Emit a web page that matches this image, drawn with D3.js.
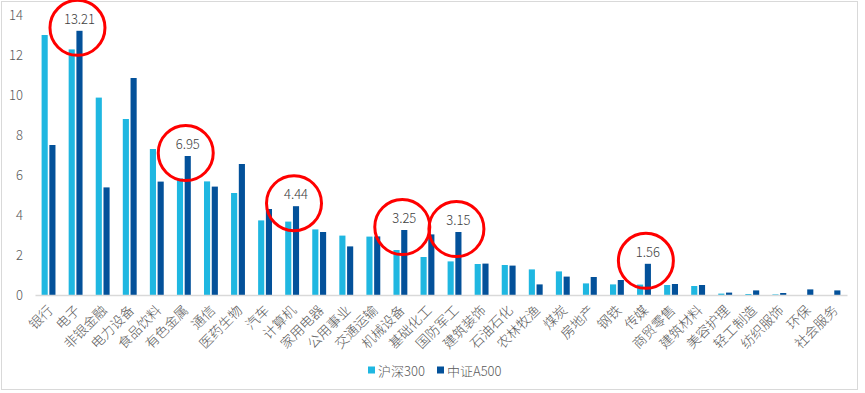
<!DOCTYPE html>
<html><head><meta charset="utf-8">
<script src="https://cdn.jsdelivr.net/npm/d3@7/dist/d3.min.js"></script>
<style>
html,body{margin:0;padding:0;background:#fff;}
svg{display:block;font-family:"Noto Sans CJK SC","Noto Sans",sans-serif;font-weight:300;}
</style></head>
<body>
<svg id="chart" width="865" height="393"></svg>
<script>
const categories = ["银行","电子","非银金融","电力设备","食品饮料","有色金属","通信","医药生物","汽车","计算机","家用电器","公用事业","交通运输","机械设备","基础化工","国防军工","建筑装饰","石油石化","农林牧渔","煤炭","房地产","钢铁","传媒","商贸零售","建筑材料","美容护理","轻工制造","纺织服饰","环保","社会服务"];
const seriesNames = ["沪深300","中证A500"];
const hs300 = [13.0,12.28,9.87,8.8,7.3,5.83,5.68,5.1,3.73,3.67,3.28,2.97,2.92,2.25,1.9,1.68,1.55,1.5,1.28,1.18,0.58,0.53,0.52,0.5,0.45,0.07,0.05,0.03,0,0];
const a500 = [7.5,13.21,5.38,10.85,5.67,6.95,5.42,6.55,4.3,4.44,3.15,2.43,2.93,3.25,3.03,3.15,1.57,1.47,0.53,0.92,0.9,0.75,1.56,0.55,0.5,0.12,0.23,0.1,0.28,0.23];
const yTicks = [0,2,4,6,8,10,12,14];
const annotated = ["电子","有色金属","计算机","机械设备","国防军工","传媒"];

const colors = ["#1fb7e1","#03519a"];
const svg = d3.select("#chart");

// outer border
svg.append("rect").attr("x",1.5).attr("y",1.5).attr("width",856).attr("height",388)
  .attr("fill","#fff").attr("stroke","#d9d9d9").attr("stroke-width",1);

const x = d3.scaleBand().domain(categories).range([35,847]).paddingInner(0).paddingOuter(0);
const x1 = d3.scaleBand().domain(seriesNames).range([0,x.bandwidth()]).paddingInner(0.21).paddingOuter(0.85);
const y = d3.scaleLinear().domain([0,14]).range([295,15]);

// y axis labels
const yAxis = d3.axisLeft(y).tickValues(yTicks).tickSize(0).tickPadding(0).tickFormat(d3.format("d"));
const ya = svg.append("g").attr("transform","translate(23,0)").call(yAxis);
ya.select(".domain").remove();
ya.selectAll("text").attr("fill","#595959").style("font-size","13px").style("font-family","'Noto Sans CJK SC',sans-serif").style("font-weight","300");

// bars
const data = categories.map((c,i)=>({c, vals:[hs300[i],a500[i]]}));
const g = svg.append("g");
data.forEach(d=>{
  d.vals.forEach((v,j)=>{
    g.append("rect")
      .attr("x",x(d.c)+x1(seriesNames[j]))
      .attr("y",y(v))
      .attr("width",x1.bandwidth())
      .attr("height",y(0)-y(v))
      .attr("fill",colors[j]);
  });
});

// x axis
const xAxis = d3.axisBottom(x).tickSize(0).tickPadding(0);
const xa = svg.append("g").attr("transform","translate(0,295)").call(xAxis);
xa.select(".domain").attr("stroke","#d9d9d9").attr("stroke-width",1.5);
xa.selectAll(".tick text")
  .attr("fill","#595959").style("font-size","13.5px")
  .style("font-family","'Noto Sans CJK SC',sans-serif").style("font-weight","300")
  .attr("text-anchor","end").attr("dy",null).attr("y",null)
  .attr("dominant-baseline","central")
  .attr("transform","translate(1,12) rotate(-45)");

// annotations
annotated.forEach(c=>{
  const i = categories.indexOf(c);
  const v = a500[i];
  const cx = x(c)+x1(seriesNames[1])+x1.bandwidth()/2;
  const cy = y(v);
  svg.append("circle").attr("cx",cx-2).attr("cy",cy-3).attr("r",27.5)
    .attr("fill","none").attr("stroke","#ff0000").attr("stroke-width",3);
  svg.append("text").attr("x",cx).attr("y",cy-12.5)
    .attr("text-anchor","middle").attr("dominant-baseline","central")
    .attr("fill","#404040").style("font-size","13px").text(v.toFixed(2));
});

// legend
const lg = svg.append("g").attr("transform","translate(368,370)");
const legX = [0,69];
seriesNames.forEach((s,j)=>{
  lg.append("rect").attr("x",legX[j]).attr("y",-3.5).attr("width",7).attr("height",7).attr("fill",colors[j]);
  lg.append("text").attr("x",legX[j]+10).attr("y",0).attr("dominant-baseline","central")
    .attr("fill","#595959").style("font-size","13px").text(s);
});
</script>
</body></html>
